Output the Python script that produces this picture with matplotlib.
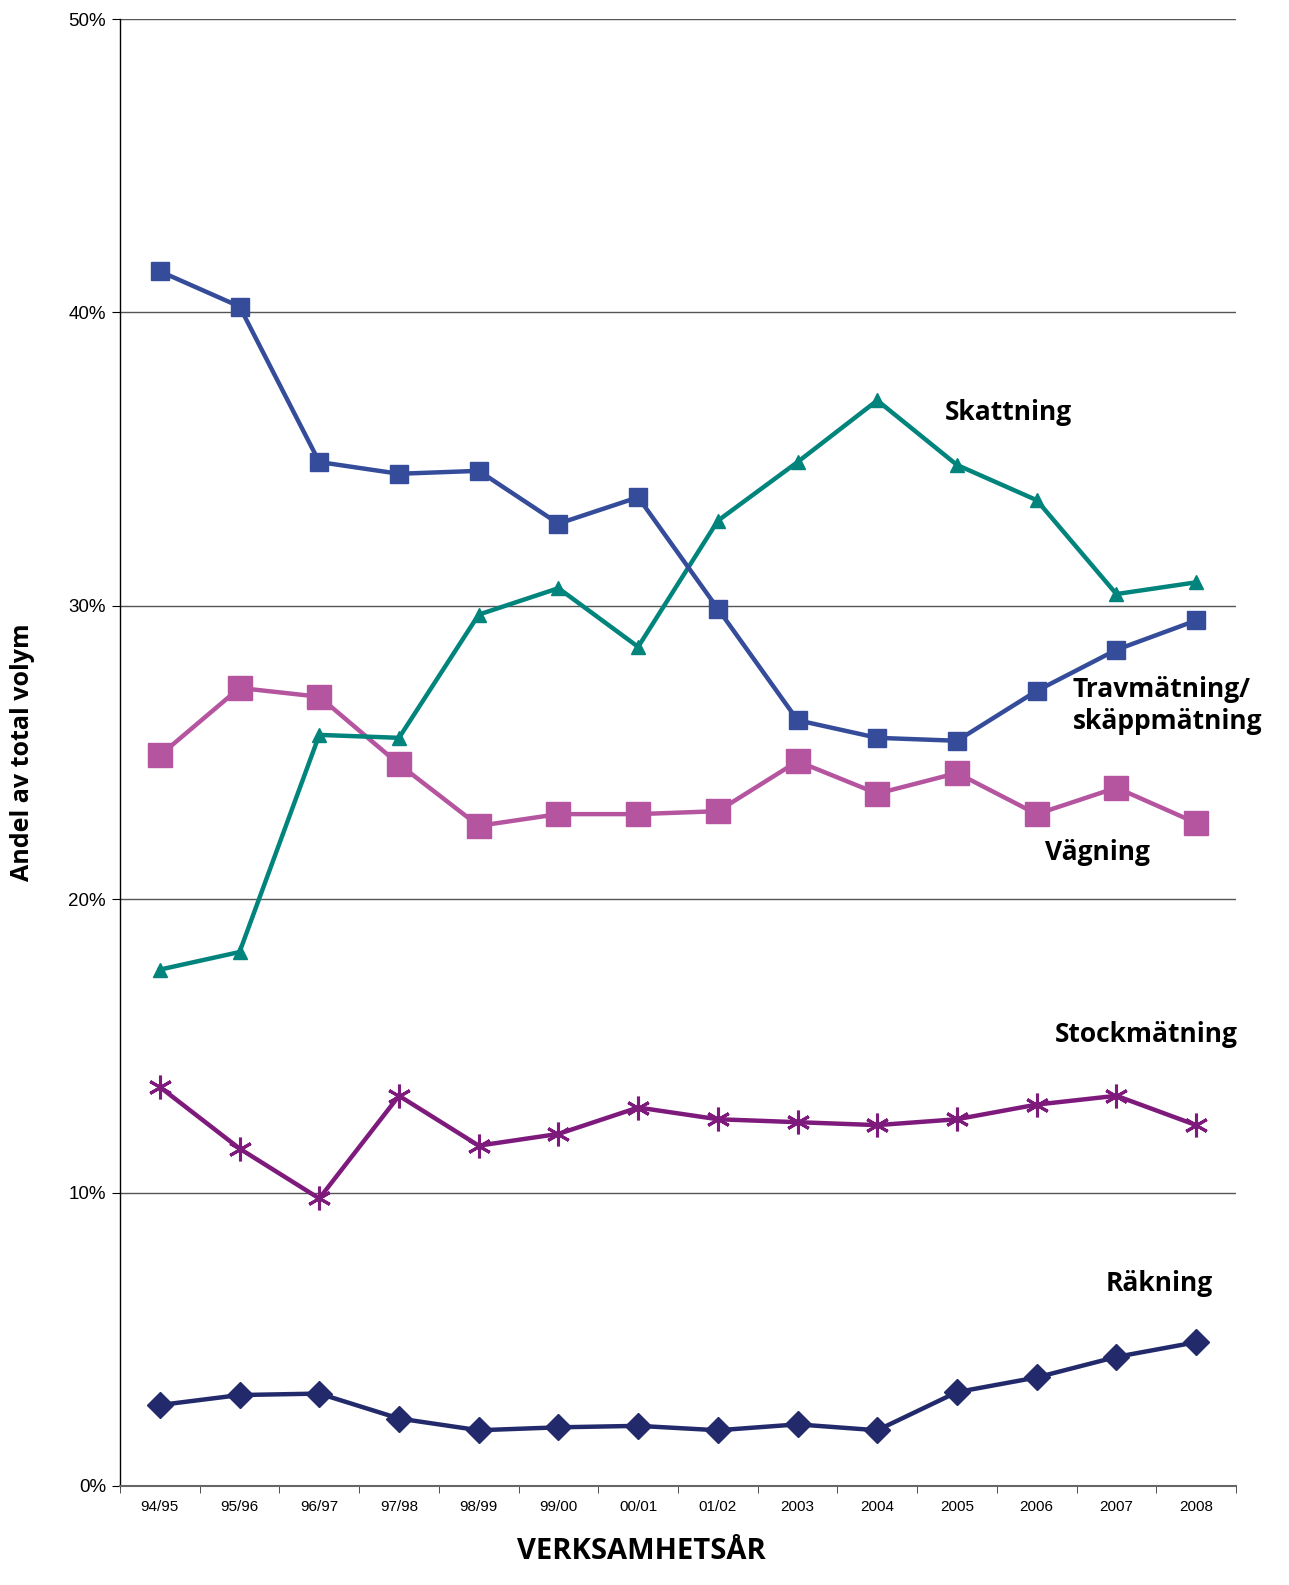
import matplotlib
matplotlib.use("Agg")
import matplotlib.pyplot as plt
from matplotlib.ticker import FuncFormatter

categories = ["94/95", "95/96", "96/97", "97/98", "98/99", "99/00", "00/01",
              "01/02", "2003", "2004", "2005", "2006", "2007", "2008"]
travmatning = [41.4, 40.2, 34.9, 34.5, 34.6, 32.8, 33.7, 29.9, 26.1, 25.5, 25.4, 27.1, 28.5, 29.5]
skattning = [17.6, 18.2, 25.6, 25.5, 29.7, 30.6, 28.6, 32.9, 34.9, 37.0, 34.8, 33.6, 30.4, 30.8]
vagning = [24.9, 27.2, 26.9, 24.6, 22.5, 22.9, 22.9, 23.0, 24.7, 23.6, 24.3, 22.9, 23.8, 22.6]
stockmatning = [13.6, 11.5, 9.8, 13.3, 11.6, 12.0, 12.9, 12.5, 12.4, 12.3, 12.5, 13.0, 13.3, 12.3]
rakning = [2.76, 3.1, 3.15, 2.3, 1.9, 2.0, 2.05, 1.9, 2.1, 1.9, 3.2, 3.7, 4.4, 4.9]
yticks = [0, 10, 20, 30, 40, 50]

fig = plt.figure(figsize=(12.89, 15.85), dpi=100)
ax = fig.add_axes([120/1289, 99/1585, 1116/1289, 1467/1585])

x = list(range(len(categories)))
lw = 3.2
ax.plot(x, rakning, color="#232a6b", lw=lw, marker="D", ms=13, zorder=5)
ax.plot(x, stockmatning, color="#7f1a7d", lw=lw, marker=(6, 2, 0), ms=17, mew=2.2, zorder=5)
ax.plot(x, vagning, color="#b5559f", lw=lw, marker="s", ms=17, zorder=5)
ax.plot(x, skattning, color="#00847c", lw=lw, marker="^", ms=10, zorder=6)
ax.plot(x, travmatning, color="#344c9a", lw=lw, marker="s", ms=12.5, zorder=7)

ax.set_xlim(-0.5, len(categories) - 0.5)
ax.set_ylim(0, 50)
ax.set_yticks(yticks)
ax.yaxis.set_major_formatter(FuncFormatter(lambda v, p: f"{int(v)}%"))
for yv in yticks[1:]:
    ax.axhline(yv, color="#555555", lw=1.0, zorder=1)

ax.set_xticks(x)
ax.set_xticklabels(categories, fontsize=11, family="Liberation Sans")
ax.set_xticks([i - 0.5 for i in range(len(categories) + 1)], minor=True)
ax.tick_params(axis="x", which="major", length=0, pad=10)
ax.tick_params(axis="x", which="minor", length=5, direction="out", color="#333333")
ax.tick_params(axis="y", length=6, direction="out", labelsize=13.5, pad=4)
for lab in ax.get_yticklabels():
    lab.set_family("Liberation Sans")

for s in ["top", "right"]:
    ax.spines[s].set_visible(False)
ax.spines["left"].set_color("black")
ax.spines["left"].set_linewidth(1.0)
ax.spines["bottom"].set_color("#666666")
ax.spines["bottom"].set_linewidth(1.5)

lab_font = dict(family=["Open Sans", "DejaVu Sans"], fontweight="bold", fontsize=18)
ax.set_ylabel("Andel av total volym", **lab_font)
ax.yaxis.set_label_coords(-0.076, 0.5)
ax.set_xlabel("VERKSAMHETSÅR", family=["Open Sans", "DejaVu Sans"], fontweight="bold", fontsize=21)
ax.xaxis.set_label_coords(0.467, -0.035)

ann = dict(family=["Open Sans", "DejaVu Sans"], fontweight="bold", fontsize=19, ha="left", va="center")
ax.text(9.85, 36.6, "Skattning", **ann)
ax.text(11.45, 26.6, "Travmätning/\nskäppmätning", linespacing=1.2, **ann)
ax.text(11.1, 21.6, "Vägning", **ann)
ax.text(11.23, 15.4, "Stockmätning", **ann)
ax.text(11.87, 6.9, "Räkning", **ann)

fig.savefig("out.png", dpi=100)
